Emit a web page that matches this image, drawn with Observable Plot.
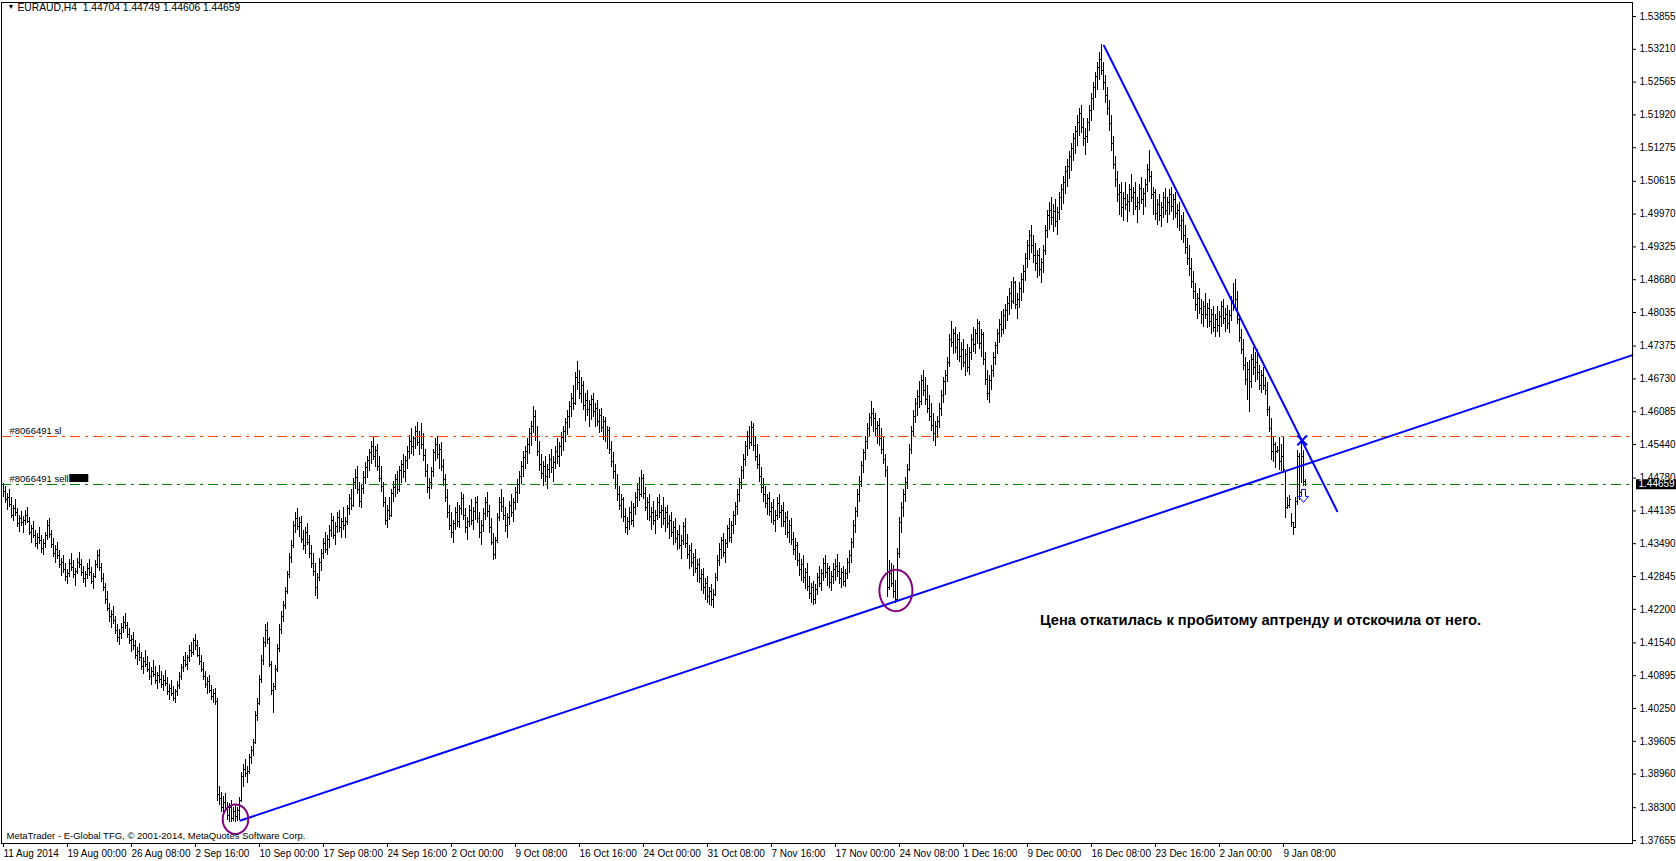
<!DOCTYPE html>
<html><head><meta charset="utf-8">
<script src="https://cdn.jsdelivr.net/npm/d3@7"></script>
<script src="https://cdn.jsdelivr.net/npm/@observablehq/plot@0.6"></script>
<style>html,body{margin:0;padding:0;background:#fff;overflow:hidden}</style>
</head><body><div id="chart"></div>
<script>
// ---- H4 bars (high / low / close), bar index = position on the time axis ----
const highs = [
1.4468,1.4462,1.4448,1.4455,1.4440,1.4425,1.4436,1.4418,1.4405,1.4412,
1.4402,1.4415,1.4420,1.4400,1.4385,1.4392,1.4375,1.4370,1.4380,1.4365,
1.4358,1.4372,1.4395,1.4398,1.4375,1.4360,1.4345,1.4352,1.4335,1.4320,
1.4325,1.4310,1.4298,1.4318,1.4330,1.4315,1.4300,1.4320,1.4332,1.4318,
1.4305,1.4295,1.4310,1.4318,1.4302,1.4290,1.4315,1.4335,1.4338,1.4310,
1.4290,1.4270,1.4255,1.4232,1.4218,1.4225,1.4205,1.4190,1.4180,1.4192,
1.4205,1.4212,1.4195,1.4182,1.4168,1.4175,1.4158,1.4145,1.4152,1.4135,
1.4125,1.4140,1.4128,1.4115,1.4105,1.4120,1.4108,1.4095,1.4110,1.4098,
1.4090,1.4100,1.4085,1.4072,1.4080,1.4068,1.4062,1.4078,1.4095,1.4112,
1.4128,1.4135,1.4130,1.4148,1.4155,1.4162,1.4170,1.4158,1.4145,1.4130,
1.4115,1.4098,1.4085,1.4090,1.4070,1.4062,1.4065,1.4045,1.3872,1.3860,
1.3852,1.3858,1.3840,1.3838,1.3845,1.3830,1.3835,1.3830,1.3850,1.3900,
1.3915,1.3925,1.3910,1.3935,1.3950,1.3965,1.4020,1.4045,1.4090,1.4130,
1.4165,1.4190,1.4195,1.4165,1.4118,1.4075,1.4110,1.4150,1.4190,1.4215,
1.4235,1.4262,1.4295,1.4330,1.4355,1.4392,1.4410,1.4418,1.4400,1.4402,
1.4375,1.4380,1.4388,1.4365,1.4345,1.4330,1.4310,1.4290,1.4320,1.4338,
1.4360,1.4372,1.4365,1.4385,1.4408,1.4402,1.4390,1.4410,1.4415,1.4398,
1.4420,1.4400,1.4425,1.4445,1.4455,1.4478,1.4495,1.4500,1.4470,1.4465,
1.4490,1.4508,1.4520,1.4535,1.4550,1.4558,1.4540,1.4545,1.4520,1.4500,
1.4470,1.4440,1.4425,1.4440,1.4455,1.4472,1.4485,1.4490,1.4500,1.4512,
1.4525,1.4520,1.4540,1.4562,1.4575,1.4560,1.4580,1.4588,1.4570,1.4585,
1.4565,1.4535,1.4505,1.4478,1.4498,1.4535,1.4555,1.4560,1.4545,1.4548,
1.4515,1.4485,1.4455,1.4425,1.4410,1.4395,1.4420,1.4430,1.4425,1.4450,
1.4445,1.4418,1.4400,1.4425,1.4435,1.4420,1.4440,1.4442,1.4410,1.4395,
1.4418,1.4440,1.4450,1.4425,1.4398,1.4370,1.4362,1.4408,1.4440,1.4455,
1.4440,1.4420,1.4408,1.4432,1.4445,1.4438,1.4460,1.4475,1.4490,1.4510,
1.4530,1.4540,1.4555,1.4575,1.4590,1.4618,1.4610,1.4580,1.4550,1.4525,
1.4510,1.4520,1.4505,1.4525,1.4535,1.4520,1.4540,1.4555,1.4548,1.4568,
1.4580,1.4595,1.4610,1.4628,1.4645,1.4660,1.4685,1.4708,1.4690,1.4675,
1.4668,1.4645,1.4650,1.4630,1.4640,1.4645,1.4625,1.4630,1.4612,1.4615,
1.4600,1.4598,1.4580,1.4578,1.4550,1.4528,1.4505,1.4485,1.4462,1.4445,
1.4440,1.4418,1.4400,1.4420,1.4432,1.4428,1.4450,1.4468,1.4480,1.4492,
1.4485,1.4460,1.4440,1.4445,1.4420,1.4432,1.4415,1.4440,1.4445,1.4425,
1.4440,1.4420,1.4425,1.4405,1.4410,1.4392,1.4398,1.4375,1.4385,1.4365,
1.4390,1.4398,1.4368,1.4345,1.4350,1.4330,1.4338,1.4318,1.4320,1.4298,
1.4300,1.4280,1.4285,1.4262,1.4268,1.4258,1.4290,1.4325,1.4350,1.4362,
1.4370,1.4358,1.4385,1.4398,1.4392,1.4412,1.4430,1.4455,1.4478,1.4500,
1.4525,1.4550,1.4570,1.4580,1.4590,1.4585,1.4560,1.4545,1.4525,1.4498,
1.4478,1.4462,1.4445,1.4450,1.4430,1.4435,1.4415,1.4440,1.4445,1.4425,
1.4430,1.4410,1.4412,1.4395,1.4398,1.4372,1.4360,1.4352,1.4330,1.4318,
1.4325,1.4300,1.4310,1.4285,1.4270,1.4275,1.4268,1.4290,1.4305,1.4298,
1.4320,1.4325,1.4310,1.4305,1.4295,1.4310,1.4318,1.4328,1.4312,1.4300,
1.4305,1.4298,1.4320,1.4335,1.4360,1.4395,1.4420,1.4455,1.4482,1.4510,
1.4535,1.4560,1.4585,1.4605,1.4628,1.4615,1.4605,1.4590,1.4595,1.4575,
1.4560,1.4525,1.4500,1.4316,1.4310,1.4306,1.4277,1.4340,1.4400,1.4430,
1.4455,1.4480,1.4505,1.4545,1.4580,1.4610,1.4635,1.4650,1.4668,1.4680,
1.4690,1.4675,1.4660,1.4640,1.4625,1.4605,1.4590,1.4600,1.4625,1.4650,
1.4675,1.4690,1.4715,1.4760,1.4785,1.4770,1.4775,1.4760,1.4765,1.4745,
1.4750,1.4730,1.4740,1.4735,1.4760,1.4775,1.4770,1.4790,1.4785,1.4770,
1.4765,1.4725,1.4690,1.4680,1.4700,1.4725,1.4745,1.4770,1.4790,1.4805,
1.4810,1.4820,1.4835,1.4850,1.4865,1.4872,1.4865,1.4840,1.4862,1.4880,
1.4895,1.4920,1.4945,1.4965,1.4975,1.4955,1.4940,1.4925,1.4930,1.4910,
1.4935,1.4975,1.5005,1.5020,1.5030,1.5015,1.5025,1.5010,1.5040,1.5055,
1.5070,1.5090,1.5105,1.5120,1.5135,1.5155,1.5170,1.5190,1.5205,1.5210,
1.5185,1.5165,1.5185,1.5210,1.5235,1.5255,1.5275,1.5295,1.5315,1.5330,
1.5295,1.5270,1.5245,1.5220,1.5190,1.5150,1.5110,1.5080,1.5055,1.5060,
1.5040,1.5060,1.5035,1.5055,1.5075,1.5050,1.5060,1.5030,1.5055,1.5068,
1.5048,1.5065,1.5095,1.5122,1.5080,1.5050,1.5045,1.5025,1.5035,1.5020,
1.5040,1.5048,1.5030,1.5045,1.5050,1.5035,1.5040,1.5015,1.5020,1.4995,
1.5000,1.4975,1.4950,1.4935,1.4910,1.4885,1.4860,1.4840,1.4850,1.4830,
1.4825,1.4840,1.4822,1.4830,1.4810,1.4815,1.4800,1.4815,1.4805,1.4825,
1.4830,1.4812,1.4818,1.4808,1.4835,1.4860,1.4868,1.4845,1.4800,1.4770,
1.4750,1.4715,1.4705,1.4710,1.4720,1.4735,1.4725,1.4730,1.4700,1.4690,
1.4695,1.4675,1.4665,1.4618,1.4596,1.4558,1.4548,1.4540,1.4558,1.4545,
1.4558,1.4490,1.4440,1.4444,1.4408,1.4391,1.4440,1.4532,1.4526,1.4552,1.4532,1.44749
];
const lows = [
1.4440,1.4428,1.4415,1.4420,1.4398,1.4392,1.4402,1.4380,1.4372,1.4382,
1.4370,1.4385,1.4388,1.4365,1.4350,1.4360,1.4342,1.4338,1.4348,1.4330,
1.4325,1.4340,1.4355,1.4360,1.4340,1.4322,1.4310,1.4318,1.4300,1.4285,
1.4290,1.4275,1.4268,1.4282,1.4295,1.4280,1.4265,1.4288,1.4300,1.4285,
1.4270,1.4262,1.4278,1.4285,1.4268,1.4258,1.4280,1.4300,1.4295,1.4272,
1.4255,1.4230,1.4215,1.4195,1.4182,1.4190,1.4170,1.4155,1.4148,1.4160,
1.4172,1.4180,1.4162,1.4150,1.4135,1.4140,1.4122,1.4110,1.4118,1.4100,
1.4092,1.4105,1.4095,1.4080,1.4070,1.4085,1.4072,1.4062,1.4075,1.4065,
1.4058,1.4068,1.4050,1.4040,1.4048,1.4038,1.4035,1.4048,1.4062,1.4080,
1.4095,1.4105,1.4100,1.4115,1.4125,1.4130,1.4140,1.4125,1.4110,1.4095,
1.4080,1.4065,1.4052,1.4055,1.4040,1.4035,1.4030,1.3842,1.3835,1.3820,
1.3815,1.3822,1.3805,1.3800,1.3800,1.3802,1.3800,1.3803,1.3805,1.3840,
1.3870,1.3890,1.3878,1.3895,1.3915,1.3930,1.3955,1.4000,1.4030,1.4075,
1.4110,1.4145,1.4150,1.4105,1.4050,1.4015,1.4060,1.4095,1.4135,1.4170,
1.4195,1.4220,1.4250,1.4280,1.4310,1.4340,1.4370,1.4375,1.4362,1.4350,
1.4335,1.4328,1.4345,1.4320,1.4300,1.4285,1.4245,1.4240,1.4275,1.4295,
1.4318,1.4330,1.4325,1.4340,1.4362,1.4358,1.4345,1.4370,1.4372,1.4360,
1.4375,1.4360,1.4385,1.4405,1.4415,1.4420,1.4455,1.4445,1.4420,1.4418,
1.4445,1.4465,1.4478,1.4490,1.4505,1.4512,1.4498,1.4490,1.4470,1.4450,
1.4420,1.4385,1.4378,1.4395,1.4400,1.4430,1.4440,1.4445,1.4450,1.4468,
1.4478,1.4470,1.4495,1.4515,1.4525,1.4520,1.4535,1.4540,1.4522,1.4535,
1.4510,1.4480,1.4448,1.4435,1.4455,1.4480,1.4510,1.4515,1.4495,1.4490,
1.4462,1.4430,1.4398,1.4375,1.4360,1.4350,1.4375,1.4380,1.4378,1.4405,
1.4395,1.4370,1.4355,1.4380,1.4385,1.4375,1.4395,1.4388,1.4360,1.4345,
1.4372,1.4395,1.4400,1.4370,1.4345,1.4315,1.4318,1.4350,1.4392,1.4410,
1.4395,1.4372,1.4360,1.4385,1.4400,1.4390,1.4415,1.4428,1.4445,1.4465,
1.4480,1.4495,1.4505,1.4525,1.4540,1.4565,1.4550,1.4520,1.4490,1.4475,
1.4462,1.4470,1.4455,1.4478,1.4488,1.4470,1.4495,1.4505,1.4498,1.4520,
1.4530,1.4548,1.4562,1.4575,1.4598,1.4610,1.4620,1.4650,1.4632,1.4625,
1.4610,1.4590,1.4600,1.4578,1.4592,1.4598,1.4578,1.4580,1.4565,1.4568,
1.4552,1.4548,1.4535,1.4525,1.4498,1.4475,1.4455,1.4432,1.4415,1.4398,
1.4390,1.4370,1.4365,1.4375,1.4385,1.4380,1.4405,1.4420,1.4432,1.4440,
1.4435,1.4412,1.4395,1.4392,1.4375,1.4385,1.4368,1.4395,1.4398,1.4378,
1.4385,1.4372,1.4378,1.4358,1.4362,1.4345,1.4350,1.4335,1.4338,1.4318,
1.4345,1.4340,1.4318,1.4298,1.4302,1.4285,1.4290,1.4272,1.4270,1.4255,
1.4250,1.4238,1.4232,1.4228,1.4225,1.4222,1.4245,1.4275,1.4305,1.4318,
1.4322,1.4310,1.4340,1.4352,1.4350,1.4368,1.4385,1.4405,1.4430,1.4455,
1.4475,1.4500,1.4520,1.4535,1.4540,1.4530,1.4510,1.4495,1.4470,1.4448,
1.4430,1.4418,1.4405,1.4402,1.4388,1.4385,1.4372,1.4395,1.4398,1.4380,
1.4380,1.4365,1.4360,1.4350,1.4345,1.4325,1.4315,1.4305,1.4285,1.4275,
1.4270,1.4258,1.4255,1.4240,1.4232,1.4228,1.4230,1.4248,1.4262,1.4255,
1.4275,1.4280,1.4265,1.4260,1.4255,1.4268,1.4275,1.4282,1.4268,1.4260,
1.4265,1.4262,1.4278,1.4290,1.4310,1.4340,1.4370,1.4400,1.4430,1.4460,
1.4488,1.4512,1.4535,1.4560,1.4580,1.4568,1.4560,1.4545,1.4540,1.4525,
1.4505,1.4480,1.4244,1.4257,1.4263,1.4241,1.4231,1.4235,1.4320,1.4370,
1.4400,1.4430,1.4455,1.4490,1.4525,1.4560,1.4585,1.4600,1.4615,1.4620,
1.4638,1.4620,1.4605,1.4590,1.4570,1.4550,1.4540,1.4555,1.4575,1.4600,
1.4625,1.4640,1.4665,1.4695,1.4735,1.4720,1.4722,1.4710,1.4705,1.4690,
1.4695,1.4678,1.4685,1.4680,1.4710,1.4725,1.4720,1.4740,1.4730,1.4715,
1.4700,1.4660,1.4630,1.4625,1.4650,1.4675,1.4700,1.4720,1.4742,1.4755,
1.4760,1.4770,1.4785,1.4798,1.4810,1.4820,1.4810,1.4790,1.4812,1.4825,
1.4840,1.4865,1.4890,1.4905,1.4920,1.4900,1.4885,1.4870,1.4875,1.4860,
1.4880,1.4915,1.4950,1.4965,1.4975,1.4960,1.4970,1.4955,1.4985,1.5005,
1.5015,1.5035,1.5050,1.5065,1.5080,1.5100,1.5115,1.5130,1.5150,1.5155,
1.5130,1.5112,1.5135,1.5160,1.5180,1.5200,1.5225,1.5240,1.5260,1.5270,
1.5240,1.5215,1.5190,1.5160,1.5120,1.5085,1.5050,1.5020,1.4995,1.4990,
1.4982,1.5005,1.4980,1.5000,1.5020,1.4995,1.5005,1.4978,1.5005,1.5015,
1.4995,1.5010,1.5040,1.5060,1.5025,1.4995,1.4985,1.4975,1.4982,1.4970,
1.4988,1.4995,1.4978,1.4995,1.5000,1.4985,1.4988,1.4968,1.4962,1.4945,
1.4940,1.4918,1.4895,1.4875,1.4850,1.4830,1.4805,1.4790,1.4800,1.4780,
1.4775,1.4790,1.4772,1.4775,1.4760,1.4765,1.4755,1.4765,1.4755,1.4775,
1.4780,1.4765,1.4770,1.4762,1.4785,1.4805,1.4810,1.4780,1.4745,1.4720,
1.4690,1.4660,1.4630,1.4606,1.4655,1.4680,1.4665,1.4670,1.4650,1.4645,
1.4650,1.4640,1.4600,1.4568,1.4513,1.4508,1.4497,1.4527,1.4493,1.4490,
1.4487,1.4398,1.4416,1.4418,1.4381,1.4365,1.4379,1.4424,1.4434,1.4467,1.4462,1.44606
];
const closes = [
1.4452,1.4435,1.4440,1.4426,1.4405,1.4418,1.4410,1.4388,1.4398,1.4390,
1.4395,1.4405,1.4392,1.4372,1.4378,1.4365,1.4350,1.4362,1.4355,1.4340,
1.4350,1.4365,1.4385,1.4368,1.4348,1.4330,1.4338,1.4325,1.4308,1.4312,
1.4298,1.4285,1.4290,1.4310,1.4302,1.4288,1.4295,1.4312,1.4308,1.4292,
1.4280,1.4288,1.4300,1.4292,1.4275,1.4285,1.4308,1.4325,1.4302,1.4280,
1.4262,1.4240,1.4222,1.4205,1.4210,1.4198,1.4178,1.4165,1.4172,1.4185,
1.4195,1.4188,1.4170,1.4158,1.4160,1.4148,1.4130,1.4138,1.4125,1.4108,
1.4118,1.4112,1.4102,1.4088,1.4098,1.4092,1.4080,1.4090,1.4082,1.4072,
1.4080,1.4075,1.4058,1.4065,1.4055,1.4045,1.4058,1.4070,1.4088,1.4105,
1.4120,1.4112,1.4125,1.4140,1.4135,1.4158,1.4148,1.4130,1.4118,1.4102,
1.4088,1.4072,1.4078,1.4060,1.4048,1.4055,1.4038,1.3855,1.3848,1.3830,
1.3840,1.3828,1.3815,1.3830,1.3808,1.3822,1.3812,1.3825,1.3845,1.3892,
1.3905,1.3898,1.3902,1.3928,1.3942,1.3958,1.4012,1.4035,1.4082,1.4120,
1.4155,1.4178,1.4160,1.4112,1.4060,1.4068,1.4102,1.4142,1.4180,1.4205,
1.4228,1.4255,1.4288,1.4322,1.4345,1.4385,1.4398,1.4382,1.4390,1.4358,
1.4345,1.4372,1.4352,1.4330,1.4310,1.4295,1.4262,1.4282,1.4312,1.4330,
1.4350,1.4338,1.4358,1.4375,1.4395,1.4365,1.4382,1.4400,1.4380,1.4392,
1.4385,1.4392,1.4418,1.4438,1.4425,1.4470,1.4480,1.4455,1.4432,1.4458,
1.4480,1.4498,1.4512,1.4528,1.4540,1.4520,1.4532,1.4500,1.4478,1.4462,
1.4430,1.4395,1.4415,1.4405,1.4448,1.4460,1.4475,1.4455,1.4492,1.4505,
1.4490,1.4512,1.4530,1.4550,1.4540,1.4555,1.4570,1.4548,1.4560,1.4545,
1.4522,1.4490,1.4460,1.4470,1.4490,1.4528,1.4545,1.4525,1.4535,1.4500,
1.4475,1.4440,1.4410,1.4385,1.4372,1.4388,1.4410,1.4392,1.4418,1.4438,
1.4405,1.4380,1.4392,1.4415,1.4395,1.4412,1.4430,1.4398,1.4372,1.4385,
1.4408,1.4430,1.4412,1.4380,1.4352,1.4328,1.4355,1.4400,1.4430,1.4422,
1.4405,1.4385,1.4400,1.4425,1.4410,1.4430,1.4450,1.4465,1.4482,1.4500,
1.4518,1.4530,1.4545,1.4565,1.4580,1.4600,1.4560,1.4530,1.4505,1.4488,
1.4500,1.4482,1.4495,1.4515,1.4498,1.4508,1.4530,1.4520,1.4540,1.4558,
1.4570,1.4588,1.4600,1.4618,1.4635,1.4625,1.4675,1.4665,1.4645,1.4660,
1.4620,1.4630,1.4612,1.4622,1.4632,1.4608,1.4615,1.4590,1.4602,1.4578,
1.4590,1.4560,1.4572,1.4535,1.4510,1.4490,1.4465,1.4445,1.4425,1.4435,
1.4402,1.4380,1.4392,1.4410,1.4395,1.4420,1.4440,1.4455,1.4445,1.4478,
1.4448,1.4420,1.4430,1.4402,1.4410,1.4395,1.4405,1.4430,1.4410,1.4415,
1.4398,1.4410,1.4388,1.4395,1.4372,1.4380,1.4360,1.4368,1.4345,1.4355,
1.4382,1.4350,1.4328,1.4335,1.4312,1.4322,1.4300,1.4308,1.4280,1.4288,
1.4262,1.4270,1.4245,1.4255,1.4240,1.4250,1.4282,1.4315,1.4338,1.4355,
1.4332,1.4350,1.4378,1.4362,1.4385,1.4405,1.4422,1.4445,1.4470,1.4492,
1.4515,1.4540,1.4560,1.4548,1.4578,1.4542,1.4520,1.4505,1.4482,1.4460,
1.4445,1.4428,1.4438,1.4412,1.4420,1.4395,1.4405,1.4428,1.4410,1.4415,
1.4392,1.4400,1.4372,1.4385,1.4358,1.4338,1.4345,1.4315,1.4298,1.4308,
1.4282,1.4292,1.4265,1.4252,1.4262,1.4240,1.4258,1.4282,1.4270,1.4290,
1.4310,1.4292,1.4300,1.4272,1.4285,1.4298,1.4305,1.4295,1.4280,1.4292,
1.4275,1.4290,1.4312,1.4325,1.4352,1.4385,1.4412,1.4445,1.4472,1.4502,
1.4528,1.4550,1.4575,1.4598,1.4605,1.4595,1.4575,1.4582,1.4555,1.4535,
1.4515,1.4492,1.4262,1.4290,1.4270,1.4255,1.4240,1.4330,1.4390,1.4420,
1.4445,1.4470,1.4495,1.4535,1.4570,1.4600,1.4625,1.4638,1.4628,1.4670,
1.4650,1.4632,1.4615,1.4600,1.4582,1.4565,1.4580,1.4590,1.4615,1.4640,
1.4668,1.4680,1.4705,1.4750,1.4745,1.4762,1.4735,1.4750,1.4718,1.4730,
1.4705,1.4720,1.4695,1.4725,1.4750,1.4740,1.4762,1.4782,1.4742,1.4760,
1.4712,1.4672,1.4645,1.4670,1.4690,1.4715,1.4738,1.4762,1.4780,1.4770,
1.4798,1.4808,1.4822,1.4840,1.4825,1.4862,1.4820,1.4830,1.4850,1.4868,
1.4885,1.4910,1.4935,1.4955,1.4935,1.4915,1.4900,1.4915,1.4888,1.4902,
1.4925,1.4965,1.4995,1.5005,1.4990,1.5002,1.4982,1.5000,1.5030,1.5045,
1.5060,1.5080,1.5090,1.5110,1.5125,1.5145,1.5160,1.5178,1.5195,1.5168,
1.5145,1.5150,1.5178,1.5200,1.5225,1.5245,1.5268,1.5285,1.5300,1.5280,
1.5255,1.5230,1.5205,1.5175,1.5135,1.5095,1.5065,1.5035,1.5040,1.5010,
1.5028,1.5015,1.5022,1.5045,1.5030,1.5040,1.5012,1.5020,1.5048,1.5025,
1.5038,1.5055,1.5085,1.5070,1.5035,1.5040,1.4998,1.5015,1.4995,1.5010,
1.5030,1.5005,1.5020,1.5035,1.5012,1.5025,1.4998,1.5005,1.4975,1.4985,
1.4955,1.4932,1.4910,1.4890,1.4865,1.4845,1.4820,1.4832,1.4812,1.4800,
1.4815,1.4800,1.4812,1.4785,1.4800,1.4775,1.4790,1.4778,1.4795,1.4815,
1.4792,1.4800,1.4782,1.4798,1.4825,1.4815,1.4830,1.4790,1.4755,1.4730,
1.4700,1.4672,1.4692,1.4668,1.4712,1.4695,1.4705,1.4685,1.4660,1.4680,
1.4660,1.4650,1.4612,1.4575,1.4530,1.4545,1.4530,1.4532,1.4510,1.4520,
1.4495,1.4420,1.4425,1.4435,1.4390,1.4380,1.4432,1.4520,1.4450,1.4520,1.44704,1.44659
];

// ---- axes ----
const priceTicks = [1.53855,1.53210,1.52565,1.51920,1.51275,1.50615,1.49970,1.49325,1.48680,1.48035,1.47375,1.46730,1.46085,
                    1.45440,1.44780,1.44135,1.43490,1.42845,1.42200,1.41540,1.40895,1.40250,1.39605,1.38960,1.38300,1.37655];
const timeTickBars = [0,32,64,96,128,160,192,224,256,288,320,352,384,416,448,480,512,544,576,608,640];
const timeLabels = ["11 Aug 2014","19 Aug 00:00","26 Aug 08:00","2 Sep 16:00","10 Sep 00:00","17 Sep 08:00","24 Sep 16:00",
  "2 Oct 00:00","9 Oct 08:00","16 Oct 16:00","24 Oct 00:00","31 Oct 08:00","7 Nov 16:00","17 Nov 00:00","24 Nov 08:00",
  "1 Dec 16:00","9 Dec 00:00","16 Dec 08:00","23 Dec 16:00","2 Jan 00:00","9 Jan 08:00"];

// ---- header / texts ----
const symbolName = "EURAUD,H4";
const lastBarOHLC = [1.44704, 1.44749, 1.44606, 1.44659];
const copyrightText = "MetaTrader - E-Global TFG, © 2001-2014, MetaQuotes Software Corp.";
const noteText = "Цена откатилась к пробитому аптренду и отскочила от него.";
const noteBar = [628.5];
const notePrice = [1.4198];

// ---- order lines ----
const orderLabels = ["#8066491 sl", "#8066491 sell"];
const orderPrices = [1.4560, 1.4466];
const orderColors = ["#FF4500", "#008000"];

// ---- drawn objects ----
const upTrendBars = [118.5, 814.5];
const upTrendPrices = [1.38048, 1.47198];
const downTrendBars = [550.25, 666.85];
const downTrendPrices = [1.53281, 1.44129];
const ellipseBars = [116, 446.2];
const ellipsePrices = [1.38074, 1.4257];
const ellipseBarRadius = [6.4, 8.25];
const ellipsePriceRadius = [0.00289, 0.00407];
const closeMarkBar = [649.35];
const closeMarkPrice = [1.4552];
const sellArrowBar = [650];
const sellArrowPrice = [1.4442];

// ---------------------------------------------------------------
const n = highs.length;
const idx = d3.range(n);
const fmt5 = d3.format(".5f");
const labelByBar = new Map(timeTickBars.map((b, i) => [b, timeLabels[i]]));
const upTrend = upTrendBars.map((b, i) => ({bar: b, price: upTrendPrices[i]}));
const downTrend = downTrendBars.map((b, i) => ({bar: b, price: downTrendPrices[i]}));
const ellipsePts = ellipseBars.flatMap((b, k) => d3.range(0, 73).map(j => {
  const t = j / 72 * 2 * Math.PI;
  return {id: k, bar: b + ellipseBarRadius[k] * Math.cos(t), price: ellipsePrices[k] + ellipsePriceRadius[k] * Math.sin(t)};
}));
const orders = orderLabels.map((l, i) => ({label: l, price: orderPrices[i], color: orderColors[i]}));
const titleText = symbolName + "\u00a0 " + lastBarOHLC.map(fmt5).join(" ");
const lastClose = closes[n - 1];

const rectSymbol = (w, h) => ({draw(ctx) { ctx.rect(-w / 2, -h / 2, w, h); }});
const arrowSymbol = {draw(ctx) {
  ctx.moveTo(-2, -7); ctx.lineTo(2, -7); ctx.lineTo(2, 0); ctx.lineTo(5, 0);
  ctx.lineTo(0, 6); ctx.lineTo(-5, 0); ctx.lineTo(-2, 0); ctx.closePath();
}};

const FONT = '"Liberation Sans",Arial,sans-serif';

const chart = Plot.plot({
  width: 1676, height: 861,
  marginLeft: 1, marginRight: 44, marginTop: 2, marginBottom: 18,
  style: {fontFamily: FONT, fontSize: "10px", background: "#fff", color: "#000", overflow: "visible"},
  x: {domain: [-1, 814.5], label: null},
  y: {domain: [1.37596, 1.54130], label: null},
  marks: [
    // bars
    Plot.ruleX(idx, {x: i => i, y1: i => lows[i], y2: i => highs[i], stroke: "#000", strokeWidth: 1, shapeRendering: "crispEdges"}),
    Plot.ruleY(idx, {y: i => closes[i], x1: i => i + 0.5, x2: i => i + 1, stroke: "#000", strokeWidth: 1, shapeRendering: "crispEdges"}),
    // order levels
    Plot.ruleY(orders, {y: "price", stroke: "color", strokeWidth: 1, strokeDasharray: "10,5,3,5", shapeRendering: "crispEdges"}),
    Plot.text(orders, {y: "price", text: "label", frameAnchor: "left", dx: 8, dy: -5, textAnchor: "start", lineAnchor: "middle", fontSize: 9.5, fill: "#000"}),
    Plot.dot([orderPrices[1]], {y: d => d, frameAnchor: "left", dx: 77.3, dy: -6.2, symbol: rectSymbol(19, 8), fill: "#000", stroke: null}),
    // trend lines
    Plot.line(upTrend, {x: "bar", y: "price", stroke: "#0000FF", strokeWidth: 2}),
    Plot.line(downTrend, {x: "bar", y: "price", stroke: "#0000FF", strokeWidth: 2}),
    // ellipses
    Plot.line(ellipsePts, {x: "bar", y: "price", z: "id", stroke: "#800080", strokeWidth: 2, curve: "linear-closed"}),
    // order markers
    Plot.dot(closeMarkBar, {x: d => d, y: (d, i) => closeMarkPrice[i], symbol: "times", r: 4.5, stroke: "#0000FF", strokeWidth: 2}),
    Plot.dot(sellArrowBar, {x: d => d, y: (d, i) => sellArrowPrice[i], symbol: arrowSymbol, r: 6, fill: "#fff", stroke: "#0000FF", strokeWidth: 1}),
    // annotation
    Plot.text([noteText], {x: () => noteBar[0], y: () => notePrice[0], text: d => d, textAnchor: "middle",
      fontFamily: '"Liberation Sans",Arial,sans-serif', fontWeight: "bold", fontSize: 14.7, fill: "#000"}),
    // frame & axes
    Plot.frame({stroke: "#000", shapeRendering: "crispEdges"}),
    Plot.axisY(priceTicks, {anchor: "right", tickSize: 3, tickPadding: 4, tickFormat: fmt5, label: null}),
    Plot.axisX(timeTickBars, {anchor: "bottom", tickSize: 4, tickPadding: 2, tickFormat: d => labelByBar.get(d), textAnchor: "start", label: null}),
    // current price box
    Plot.dot([lastClose], {y: d => d, frameAnchor: "right", dx: 23.5, symbol: rectSymbol(40, 10), fill: "#000", stroke: null}),
    Plot.text([lastClose], {y: d => d, frameAnchor: "right", dx: 6, textAnchor: "start", lineAnchor: "middle", fill: "#fff", text: d => fmt5(d)}),
    // header & footer
    Plot.text(["▼"], {frameAnchor: "top-left", dx: 6, dy: 4, fontSize: 7, lineAnchor: "middle", fill: "#000"}),
    Plot.text([titleText], {frameAnchor: "top-left", dx: 16, dy: 5, textAnchor: "start", lineAnchor: "middle", fontSize: 10.3, fill: "#000"}),
    Plot.text([copyrightText], {frameAnchor: "bottom-left", dx: 5, dy: -7.5, textAnchor: "start", lineAnchor: "middle", fontSize: 9.5, fill: "#000"})
  ]
});
document.getElementById("chart").append(chart);
</script>
</body></html>
